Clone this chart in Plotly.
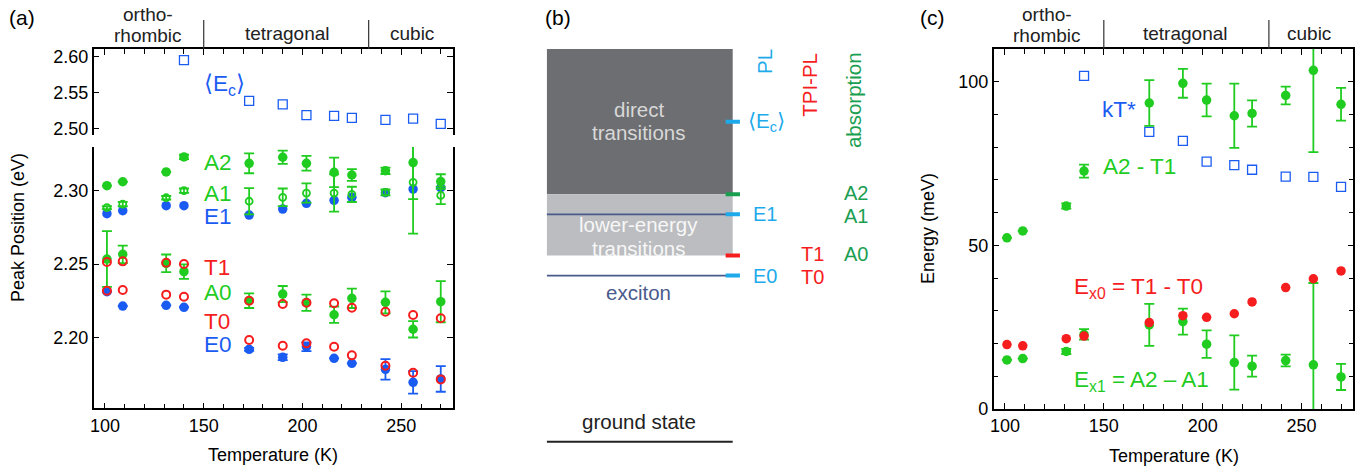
import plotly.graph_objects as go

# ---------------- data ----------------
temps = [101, 109, 131, 140, 173, 190, 202, 216, 225, 242, 256, 270]
temps_hi = [140, 173, 190, 202, 216, 225, 242, 256, 270]

# (a) peak positions (eV)
ec_mean = [2.5954, 2.5385, 2.5338, 2.5186, 2.5176, 2.5148, 2.5120, 2.5139, 2.5065]
e1 = [2.2843, 2.2864, 2.2898, 2.2898, 2.2834, 2.2875, 2.2914, 2.2934, 2.2955, 2.2986, 2.3011, 2.3020]
e0 = [2.2311, 2.2213, 2.2218, 2.2205, 2.1918, 2.1864, 2.1936, 2.1857, 2.1823, 2.1782, 2.1693, 2.1716]
e0_err = [None, None, None, None, 0.001, 0.002, 0.003, None, None, 0.007, 0.0077, 0.0087]
a2 = [2.3034, 2.3061, 2.3128, 2.3230, 2.3187, 2.3228, 2.3187, 2.3125, 2.3107, 2.3136, 2.3192, 2.3062]
a2_err = [None, None, None, 0.0015, 0.0068, 0.0045, 0.005, 0.010, 0.004, 0.0022, 0.025, 0.005]
a1 = [2.2884, 2.2909, 2.2952, 2.3000, 2.2928, 2.2955, 2.2984, 2.2984, 2.2975, 2.2988, 2.3057, 2.2968]
a1_err = [0.001, 0.0015, 0.0012, 0.0015, 0.009, 0.006, 0.0066, 0.0127, 0.0052, 0.002, 0.035, 0.006]
a0 = [2.2534, 2.2566, 2.2505, 2.2448, 2.2250, 2.2295, 2.2236, 2.2154, 2.2266, 2.2239, 2.2055, 2.2243]
a0_err = [0.019, 0.006, 0.006, 0.005, 0.005, 0.0055, 0.0055, 0.0055, 0.0066, 0.0075, 0.0056, 0.014]
t1 = [2.2514, 2.2518, 2.2509, 2.2500, 2.2250, 2.2227, 2.2236, 2.2232, 2.2202, 2.2175, 2.2152, 2.2130]
t0 = [2.2318, 2.2323, 2.2291, 2.2277, 2.1982, 2.1943, 2.1959, 2.1936, 2.1877, 2.1806, 2.1758, 2.1713]

# (c) energies (meV)
kt_star = [101.8, 84.7, 81.9, 75.6, 74.5, 73.1, 71.0, 70.9, 67.9]
a2_minus_t1 = [52.3, 54.4, 62.0, 72.7, 93.5, 99.5, 94.4, 89.6, 90.3, 95.8, 103.5, 93.1]
a2_minus_t1_err = [None, None, 0.8, 2.0, 7.0, 4.4, 5.0, 9.8, 4.0, 2.7, 25.0, 5.0]
ex0 = [19.7, 19.3, 21.5, 22.3, 26.4, 28.5, 28.0, 29.1, 32.7, 37.1, 39.8, 42.2]
ex1 = [15.0, 15.4, 17.6, 22.8, 25.7, 26.7, 19.8, 14.2, 13.1, 14.8, 13.5, 9.8]
ex1_err = [None, None, 0.8, 1.6, 6.4, 4.0, 4.2, 8.3, 3.2, 1.8, 25.0, 4.0]

# (b) schematic level scheme (arbitrary energy units, ground state = 0)
lvl_ground = 0.0
lvl_e0 = 42.3
lvl_t1 = 47.4
lvl_e1 = 57.9
lvl_a2 = 63.0
lvl_ec = 81.5
lvl_top = 100.0

# phase boundaries (K)
phase_bounds = [150, 233.5]

# ---------------- styling ----------------
W, H = 1365, 470
FONT = "Liberation Sans, Arial, sans-serif"
BLUE = "#1a5cf2"
GREEN = "#1fcc1f"
RED = "#f51d1d"
CYAN = "#1eaaea"
DKGREEN = "#1a9e50"
SLATE = "#4a5a8c"


def px(x):
    return x / W


def py(y):
    return 1 - y / H


fig = go.Figure()


def errs(vals, color):
    return dict(type="data", array=vals, visible=True, color=color,
                thickness=1.8, width=5)


def filled(x, y, color, xa, ya, err=None):
    return go.Scatter(x=x, y=y, mode="markers", xaxis=xa, yaxis=ya,
                      marker=dict(symbol="circle", size=9.5, color=color,
                                  line=dict(width=0)),
                      error_y=errs(err, color) if err is not None else None,
                      showlegend=False, hoverinfo="skip")


def ring(x, y, color, xa, ya, size=8, width=2.0, err=None):
    return go.Scatter(x=x, y=y, mode="markers", xaxis=xa, yaxis=ya,
                      marker=dict(symbol="circle-open", size=size, color=color,
                                  line=dict(width=width, color=color)),
                      error_y=errs(err, color) if err is not None else None,
                      showlegend=False, hoverinfo="skip")


def square(x, y, xa, ya):
    return go.Scatter(x=x, y=y, mode="markers", xaxis=xa, yaxis=ya,
                      marker=dict(symbol="square-open", size=9, color=BLUE,
                                  line=dict(width=1.3, color=BLUE)),
                      showlegend=False, hoverinfo="skip")


# ---- panel (a) ----
fig.add_trace(square(temps_hi, ec_mean, "x2", "y2"))
fig.add_trace(filled(temps, e1, BLUE, "x", "y"))
fig.add_trace(filled(temps, e0, BLUE, "x", "y", e0_err))
fig.add_trace(filled(temps, a0, GREEN, "x", "y", a0_err))
fig.add_trace(filled(temps, a2, GREEN, "x", "y", a2_err))
fig.add_trace(ring(temps, a1, GREEN, "x", "y", size=7, width=1.8, err=a1_err))
fig.add_trace(ring(temps, t1, RED, "x", "y"))
fig.add_trace(ring(temps, t0, RED, "x", "y"))

# ---- panel (c) ----
fig.add_trace(square(temps_hi, kt_star, "x4", "y4"))
fig.add_trace(filled(temps, a2_minus_t1, GREEN, "x4", "y4", a2_minus_t1_err))
fig.add_trace(filled(temps, ex1, GREEN, "x4", "y4", ex1_err))
fig.add_trace(filled(temps, ex0, RED, "x4", "y4"))

# ---------------- axes ----------------
tickfont = dict(family=FONT, size=18, color="black")
common = dict(showline=True, linecolor="black", linewidth=1.5, ticks="inside",
              tickcolor="black", tickwidth=1, ticklen=6, showgrid=False,
              zeroline=False, tickfont=tickfont, automargin=False)
xrange_t = [94.3, 276.2]
minor_x = dict(dtick=10, ticks="inside", ticklen=5, tickcolor="black", tickwidth=1,
               showgrid=False)

dom_a_x = [px(93.7), px(453)]
dom_c_x = [px(993.7), px(1353.3)]

# schematic axis: ground state sits at px 441.7, top of the band at px 49
sc = (441.7 - 49) / 100.0
y3_lo = -5.0

fig.update_layout(
    template="none",
    xaxis=dict(domain=dom_a_x, anchor="y", range=xrange_t, tickvals=[100, 150, 200, 250],
               minor=minor_x, mirror=False, **common),
    yaxis=dict(domain=[py(408.3), py(147)], anchor="x", range=[2.1516, 2.3298],
               tickvals=[2.20, 2.25, 2.30], tickformat=".2f", mirror="ticks", **common),
    xaxis2=dict(domain=dom_a_x, anchor="y2", range=xrange_t, side="top",
                tickvals=[100, 150, 200, 250], showticklabels=False,
                minor=minor_x, mirror=False, **common),
    yaxis2=dict(domain=[py(135), py(49)], anchor="x2", range=[2.491, 2.611],
                tickvals=[2.50, 2.55, 2.60], tickformat=".2f", mirror="ticks", **common),
    xaxis3=dict(domain=[px(546.7), px(880)], anchor="y3", range=[0, (880 - 546.7) / 186],
                visible=False, automargin=False),
    yaxis3=dict(domain=[py(441.7 - y3_lo * sc), py(49)], anchor="x3", range=[y3_lo, 100],
                visible=False, automargin=False),
    xaxis4=dict(domain=dom_c_x, anchor="y4", range=xrange_t, tickvals=[100, 150, 200, 250],
                minor=minor_x, mirror="allticks", **common),
    yaxis4=dict(domain=[py(409), py(49)], anchor="x4", range=[0, 110],
                tickvals=[0, 50, 100],
                minor=dict(dtick=10, ticks="inside", ticklen=5, tickcolor="black",
                           tickwidth=1, showgrid=False),
                mirror="allticks", **common),
)

# ---------------- shapes ----------------
shapes = []
# phase boundaries above (a) and (c)
for xa in ("x2", "x4"):
    for b in phase_bounds:
        shapes.append(dict(type="line", xref=xa, yref="paper", x0=b, x1=b,
                           y0=py(20), y1=py(49), line=dict(color="#333", width=1.2)))

# (b) level scheme
shapes += [
    dict(type="rect", xref="x3", yref="y3", x0=0, x1=1, y0=lvl_a2, y1=lvl_top,
         fillcolor="#6d6e71", line=dict(width=0), layer="below"),
    dict(type="rect", xref="x3", yref="y3", x0=0, x1=1, y0=lvl_t1, y1=lvl_a2,
         fillcolor="#bbbdc0", line=dict(width=0), layer="below"),
    dict(type="line", xref="x3", yref="y3", x0=0, x1=0.97, y0=lvl_e1, y1=lvl_e1,
         line=dict(color=SLATE, width=1.6)),
    dict(type="line", xref="x3", yref="y3", x0=0, x1=0.97, y0=lvl_e0, y1=lvl_e0,
         line=dict(color=SLATE, width=1.6)),
    dict(type="line", xref="x3", yref="y3", x0=0, x1=1, y0=lvl_ground, y1=lvl_ground,
         line=dict(color="#222", width=2)),
]
for lvl, col in ((lvl_ec, CYAN), (lvl_a2, DKGREEN), (lvl_e1, CYAN), (lvl_t1, RED),
                 (lvl_e0, CYAN)):
    shapes.append(dict(type="line", xref="x3", yref="y3", x0=0.962, x1=1.039,
                       y0=lvl, y1=lvl, line=dict(color=col, width=4)))
fig.update_layout(shapes=shapes)

# ---------------- annotations ----------------
ann = []


def text(x, y, s, color="black", size=18, xref="paper", yref="paper", xanchor="center",
         angle=0):
    ann.append(dict(x=x, y=y, xref=xref, yref=yref, text=s, showarrow=False,
                    xanchor=xanchor, yanchor="middle", textangle=angle, borderpad=0,
                    font=dict(family=FONT, size=size, color=color)))


# panel letters
text(px(22), py(17), "(a)", size=21)
text(px(558), py(17), "(b)", size=21)
text(px(932), py(17), "(c)", size=21)

# crystal phases
for xa, ortho, tet, cub in (("x2", 121.8, 192.2, 255.4), ("x4", 121.1, 191.1, 253.9)):
    text(ortho, py(15), "ortho-", size=19, xref=xa, color="#222")
    text(ortho, py(35), "rhombic", size=19, xref=xa, color="#222")
    text(tet, py(33), "tetragonal", size=19, xref=xa, color="#222")
    text(cub, py(33), "cubic", size=19, xref=xa, color="#222")

# axis titles
text(px(273.4), py(455), "Temperature (K)", size=18)
text(px(1173.5), py(456), "Temperature (K)", size=18)
text(px(18), py(228), "Peak Position (eV)", size=18, angle=-90)
text(px(928), py(229), "Energy (meV)", size=18, angle=-90)

# series labels, panel (a)
text(149.5, 2.5607, "⟨E<sub>c</sub>⟩", BLUE, 22.5, "x2", "y2", "left")
for lab, yv, col in (("A2", 2.3189, GREEN), ("A1", 2.2984, GREEN), ("E1", 2.2821, BLUE),
                     ("T1", 2.2473, RED), ("A0", 2.2309, GREEN), ("T0", 2.2105, RED),
                     ("E0", 2.1948, BLUE)):
    text(149.5, yv, lab, col, 22.5, "x", "y", "left")

# series labels, panel (c)
text(148.6, 91.4, "kT*", BLUE, 22.5, "x4", "y4", "left")
text(149.0, 74.0, "A2 - T1", GREEN, 22.5, "x4", "y4", "left")
text(134.6, 37.0, "E<sub>x0</sub> = T1 - T0", RED, 22.5, "x4", "y4", "left")
text(134.6, 8.5, "E<sub>x1</sub> = A2 – A1", GREEN, 22.5, "x4", "y4", "left")

# panel (b) texts
text(0.496, 84.7, "direct", "#d8d8d8", 20.5, "x3", "y3")
text(0.496, 78.7, "transitions", "#d8d8d8", 20.5, "x3", "y3")
text(0.496, 55.4, "lower-energy", "#f7f7f7", 20.5, "x3", "y3")
text(0.496, 49.3, "transitions", "#f7f7f7", 20.5, "x3", "y3")
text(0.496, 38.1, "exciton", SLATE, 20.5, "x3", "y3")
text(0.496, 5.1, "ground state", "#222", 20.5, "x3", "y3")
text(1.174, 96.7, "PL", CYAN, 20.5, "x3", "y3", angle=-90)
text(1.416, 90.9, "TPI-PL", RED, 20.5, "x3", "y3", angle=-90)
text(1.647, 87.0, "absorption", DKGREEN, 20.5, "x3", "y3", angle=-90)
text(1.075, lvl_ec, "⟨E<sub>c</sub>⟩", CYAN, 20.5, "x3", "y3", "left")
text(1.105, lvl_e1, "E1", CYAN, 20, "x3", "y3", "left")
text(1.105, lvl_e0, "E0", CYAN, 20, "x3", "y3", "left")
text(1.362, lvl_t1 + 0.4, "T1", RED, 20, "x3", "y3", "left")
text(1.362, lvl_e0 - 0.3, "T0", RED, 20, "x3", "y3", "left")
text(1.591, lvl_a2 + 0.4, "A2", DKGREEN, 20, "x3", "y3", "left")
text(1.591, lvl_e1 - 0.3, "A1", DKGREEN, 20, "x3", "y3", "left")
text(1.591, lvl_t1 + 0.4, "A0", DKGREEN, 20, "x3", "y3", "left")

fig.update_layout(
    annotations=ann,
    width=W, height=H, autosize=False,
    margin=dict(l=0, r=0, t=0, b=0, pad=0),
    paper_bgcolor="white", plot_bgcolor="white",
    font=dict(family=FONT, color="black"),
    showlegend=False,
)

fig.write_html("out.html")
